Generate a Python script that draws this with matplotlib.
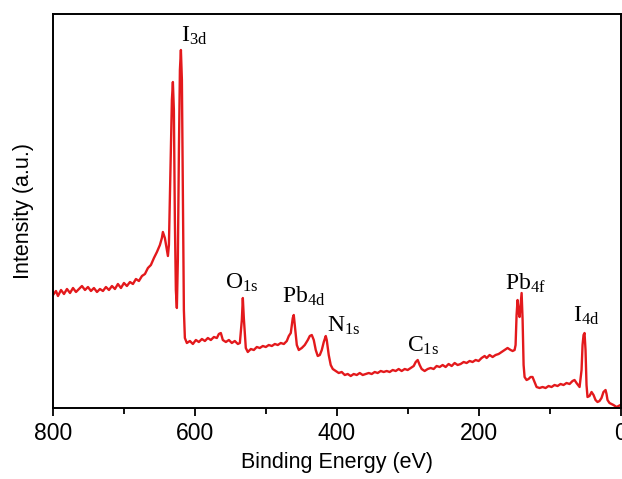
import matplotlib
matplotlib.use("Agg")
import matplotlib.pyplot as plt
from matplotlib.ticker import MultipleLocator

plt.rcParams['font.family'] = ['Liberation Sans', 'DejaVu Sans']
plt.rcParams['mathtext.fontset'] = 'custom'
plt.rcParams['mathtext.rm'] = 'Liberation Serif'
plt.rcParams['mathtext.it'] = 'Liberation Serif:italic'
plt.rcParams['mathtext.bf'] = 'Liberation Serif:bold'

binding_energy = [
    800, 795.8, 793, 788.7, 784.5, 780.3, 776, 771.8, 767.6, 763.4,
    759.2, 754.9, 750.7, 746.5, 742.3, 738, 733.8, 729.6, 725.4, 721.1,
    716.9, 712.7, 708.5, 704.2, 700, 695.8, 691.5, 687.3, 683.1, 678.9,
    674.6, 670.4, 666.2, 662, 657.7, 653.5, 649.3, 646.5, 645.1, 642.3,
    639.4, 638, 636.6, 633.8, 632.4, 631, 629.6, 628.2, 626.8, 625.4,
    624, 622.5, 621.1, 619.7, 618.3, 616.9, 615.5, 614.1, 611.3, 607,
    602.8, 598.6, 594.4, 590.1, 585.9, 581.7, 577.5, 573.2, 569, 566.2,
    563.4, 560.6, 556.3, 552.1, 547.9, 543.7, 539.4, 536.6, 533.8, 532.4,
    531, 528.2, 525.4, 521.1, 516.9, 512.7, 508.5, 504.2, 500, 495.8,
    491.5, 487.3, 483.1, 478.9, 474.6, 470.4, 467.6, 464.8, 462, 460.6,
    459.2, 456.3, 453.5, 449.3, 445.1, 440.8, 438, 435.2, 432.4, 429.6,
    426.8, 423.9, 421.1, 418.3, 415.5, 414.1, 411.3, 408.5, 405.6, 401.4,
    397.2, 393, 388.7, 384.5, 380.3, 376.1, 371.8, 367.6, 363.4, 359.2,
    354.9, 350.7, 346.5, 342.3, 338, 333.8, 329.6, 325.4, 321.1, 316.9,
    312.7, 308.5, 304.2, 300, 295.8, 291.5, 288.7, 285.9, 283.1, 280.3,
    276.1, 271.8, 267.6, 263.4, 259.2, 254.9, 250.7, 246.5, 242.3, 238,
    233.8, 229.6, 225.4, 221.1, 216.9, 212.7, 208.5, 204.2, 200, 195.8,
    191.5, 188.7, 184.5, 180.3, 176.1, 171.8, 167.6, 163.4, 159.2, 154.9,
    152.1, 149.3, 147.9, 146.5, 145.1, 143.7, 142.3, 140.8, 139.4, 138,
    136.6, 135.2, 132.4, 129.6, 126.8, 124, 121.1, 118.3, 114.1, 109.9,
    105.6, 101.4, 97.2, 93, 88.7, 84.5, 80.3, 76.1, 71.8, 67.6,
    64.8, 62, 57.7, 54.9, 53.5, 52.1, 50.7, 49.3, 47.9, 46.5,
    43.7, 40.8, 38, 35.2, 32.4, 29.6, 26.8, 24, 21.1, 19.7,
    18.3, 15.5, 12.7, 9.9, 5.6, 2.8, 0,
]

intensity = [
    113, 117, 112, 118, 114, 119, 115, 120, 116, 119,
    122, 118, 121, 117, 120, 116, 119, 117, 121, 118,
    122, 119, 124, 120, 125, 122, 126, 124, 129, 127,
    132, 134, 140, 143, 150, 156, 163, 170, 176, 170,
    158, 152, 163, 258, 308, 326, 298, 188, 118, 100,
    148, 258, 338, 358, 328, 208, 98, 70, 65, 67,
    64, 68, 66, 69, 67, 70, 68, 71, 70, 74,
    75, 68, 66, 68, 65, 67, 64, 65, 88, 110,
    90, 60, 56, 59, 58, 61, 60, 62, 61, 63,
    62, 64, 63, 65, 64, 67, 72, 75, 90, 93,
    83, 63, 58, 60, 63, 68, 72, 73, 68, 58,
    52, 53, 58, 66, 72, 68, 53, 43, 39, 37,
    35, 36, 33, 34, 32, 34, 33, 35, 33, 34,
    35, 34, 36, 35, 37, 36, 37, 36, 38, 37,
    39, 37, 39, 38, 40, 42, 46, 48, 43, 39,
    37, 39, 40, 39, 42, 41, 43, 41, 44, 42,
    45, 43, 44, 46, 45, 47, 46, 48, 47, 50,
    52, 50, 53, 51, 53, 54, 56, 58, 60, 58,
    57, 58, 63, 93, 108, 96, 91, 103, 115, 88,
    43, 31, 28, 29, 31, 31, 26, 21, 20, 21,
    20, 22, 21, 23, 22, 24, 23, 25, 24, 27,
    28, 25, 21, 38, 63, 73, 75, 58, 23, 11,
    12, 16, 13, 8, 6, 7, 10, 16, 18, 14,
    8, 5, 4, 3, 1, 2, 3,
]

peak_labels = [r'$\mathrm{I_{3d}}$', r'$\mathrm{O_{1s}}$', r'$\mathrm{Pb_{4d}}$',
               r'$\mathrm{N_{1s}}$', r'$\mathrm{C_{1s}}$', r'$\mathrm{Pb_{4f}}$',
               r'$\mathrm{I_{4d}}$']
label_x = [619.7, 557.7, 477.5, 414.1, 301.4, 163.4, 67.6]
label_y = [366, 119, 105, 76, 56, 118, 86]

x_ticks = [800, 600, 400, 200, 0]

fig = plt.figure(figsize=(6.22, 4.79), dpi=100)
ax = fig.add_axes([53 / 622, 1 - 408 / 479, 567.5 / 622, 394 / 479])

ax.plot(binding_energy, intensity, color='#e3191c', lw=1.7)

for lab, lx, ly in zip(peak_labels, label_x, label_y):
    ax.text(lx, ly, lab, fontsize=17, ha='left', va='baseline', color='black')

ax.set_xlim(800, 0)
ax.set_ylim(0, 394)
ax.set_xticks(x_ticks)
ax.set_xticklabels([str(t) for t in x_ticks])
ax.xaxis.set_minor_locator(MultipleLocator(100))
ax.set_yticks([])
ax.tick_params(axis='x', which='major', direction='out', length=6, width=1.3,
               labelsize=16.5, pad=4)
ax.tick_params(axis='x', which='minor', direction='out', length=4, width=1.3)
for s in ax.spines.values():
    s.set_linewidth(1.4)

ax.set_xlabel('Binding Energy (eV)', fontsize=15.5, labelpad=5)
ax.set_ylabel('Intensity (a.u.)', fontsize=15.5, labelpad=14)

fig.savefig('out.png', dpi=100)
